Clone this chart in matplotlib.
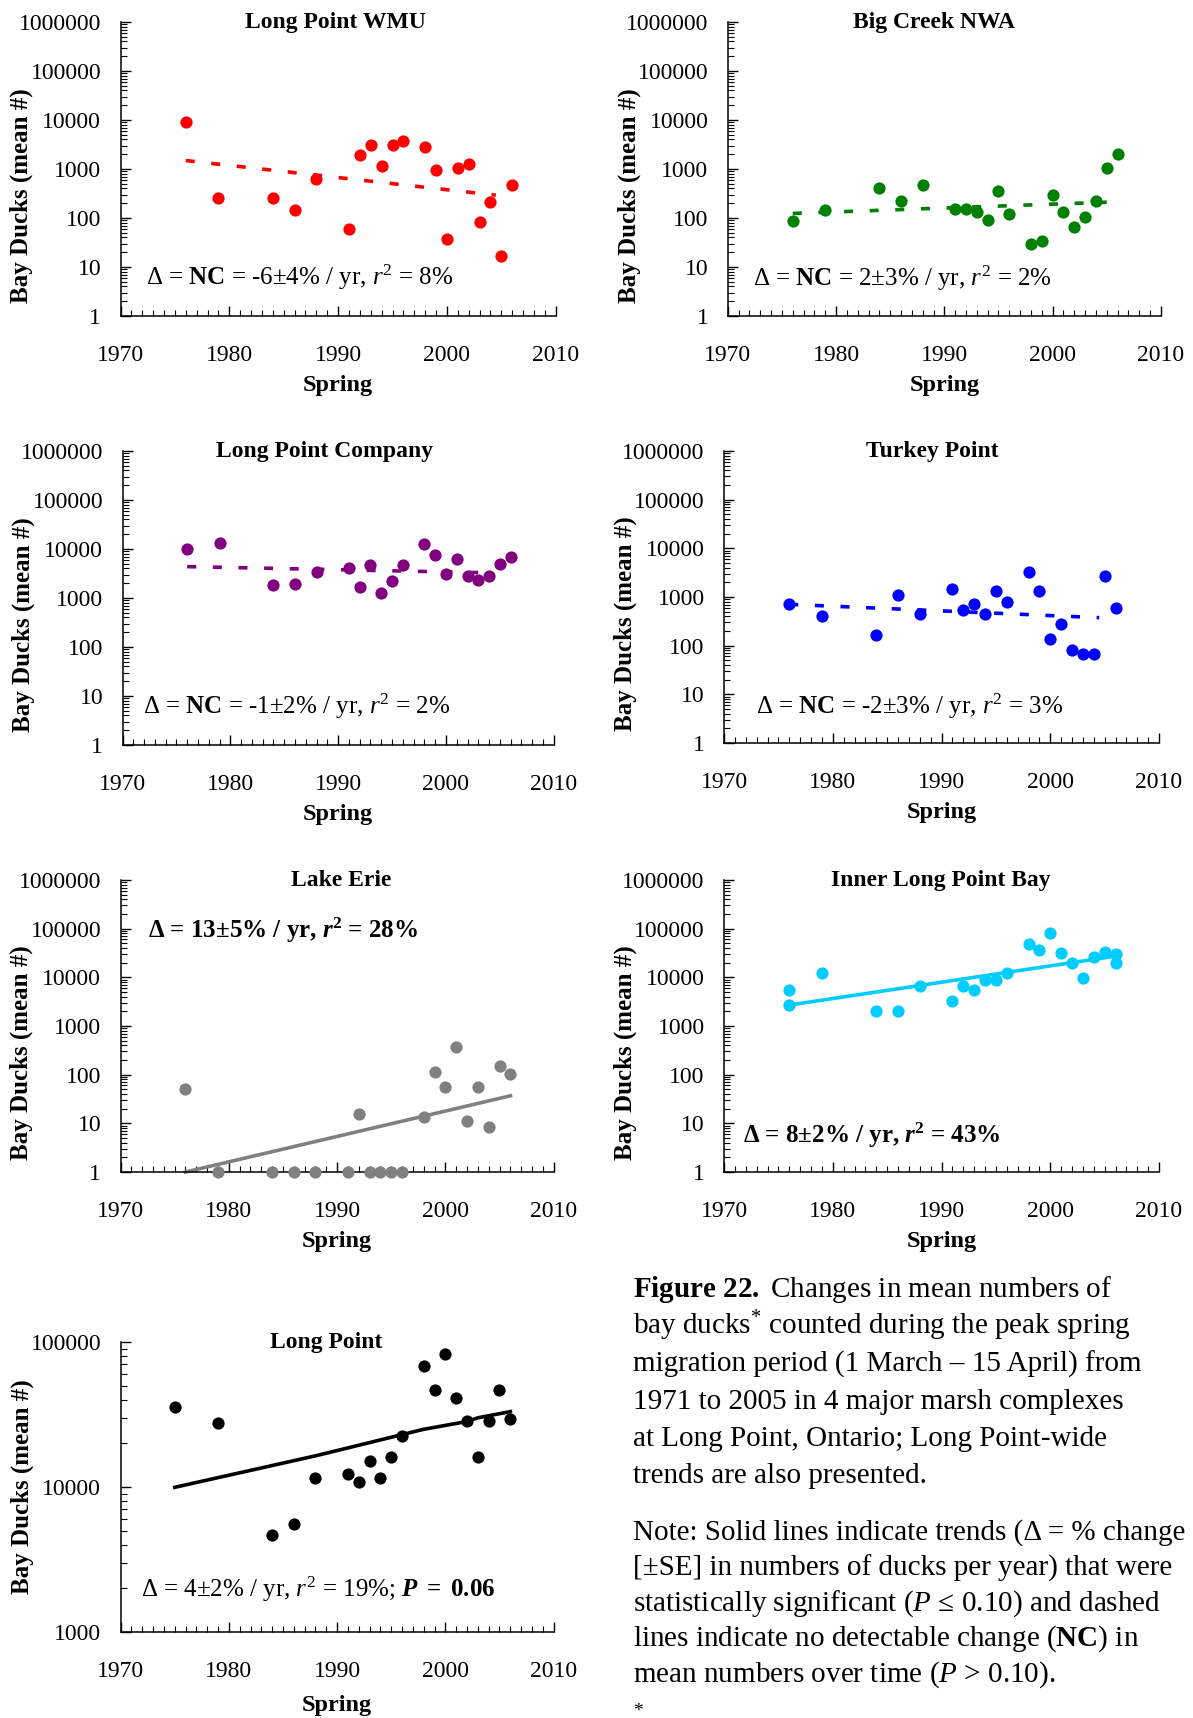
import numpy as np
import matplotlib
matplotlib.use('Agg')
import matplotlib.pyplot as plt
from matplotlib.ticker import LogLocator, MultipleLocator, FuncFormatter, NullFormatter

plt.rcParams['font.family'] = ['Liberation Serif', 'DejaVu Serif']
plt.rcParams['mathtext.fontset'] = 'custom'
plt.rcParams['mathtext.rm'] = 'Liberation Serif'
plt.rcParams['mathtext.it'] = 'Liberation Serif:italic'
plt.rcParams['mathtext.bf'] = 'Liberation Serif:bold'
plt.rcParams['mathtext.bfit'] = 'Liberation Serif:italic:bold'

# ---- data ----
years = [1976, 1979, 1984, 1986, 1988, 1991, 1992, 1993, 1994, 1995,
         1996, 1998, 1999, 2000, 2001, 2002, 2003, 2004, 2005, 2006]

wmu = [9100, 262, 262, 145, 620, 59, 1900, 3050, 1150, 3050,
       3750, 2820, 945, 37, 1050, 1290, 81, 213, 17, 480]
big_creek = [88, 145, 418, 220, 480, 156, 156, 134, 90, 350,
             120, 30, 34, 293, 134, 66, 106, 220, 1050, 2070]
lp_company = [10200, 13500, 1880, 1900, 3400, 4170, 1710, 4650, 1270, 2270,
              4650, 12500, 7450, 3050, 6170, 2830, 2300, 2830, 5030, 6900]
turkey_pt = [727, 400, 163, 1080, 440, 1480, 550, 727, 440, 1330,
             790, 3250, 1330, 135, 275, 83, 68, 68, 2700, 600]
lake_erie = [51, 1, 1, 1, 1, 1, 15.5, 1, 1, 1,
             1, 13.8, 113, 56, 367, 11.3, 56, 8.5, 152, 104]

inner_years = [1976, 1976, 1979, 1984, 1986, 1988, 1991, 1992, 1993, 1994, 1995,
               1996, 1998, 1999, 2000, 2001, 2002, 2003, 2004, 2005, 2006, 2006]
inner_bay = [5480, 2690, 12000, 2030, 2030, 6600, 3300, 6600, 5480, 8740, 8740,
             12000, 47600, 36500, 79700, 32200, 19900, 9780, 26500, 33500, 30000, 19300]

lp_years = [1975, 1979, 1984, 1986, 1988, 1991, 1992, 1993, 1994, 1995,
            1996, 1998, 1999, 2000, 2001, 2002, 2003, 2004, 2005, 2006]
long_point = [35900, 27500, 4650, 5520, 11500, 12300, 10800, 15100, 11500, 16100,
              22500, 67800, 46600, 82600, 41000, 28600, 16100, 28600, 46600, 29400]

# trend lines
trend_x = [[1976, 2004.5], [1976, 2005], [1976, 2004.5], [1976, 2004.5],
           [1976, 2006], [1976, 2006], [1975, 1988, 1998, 2002, 2003, 2006]]
trend_y = [[1490, 292], [124, 210], [4370, 3250], [707, 376],
           [1, 36.8], [2690, 27300], [9950, 16400, 25000, 28300, 30000, 33100]]

titles = ['Long Point WMU', 'Big Creek NWA', 'Long Point Company', 'Turkey Point',
          'Lake Erie', 'Inner Long Point Bay', 'Long Point']
notes = [r'Δ = $\mathbf{NC}$ = -6±4% / yr, $r^{2}$ = 8%',
         r'Δ = $\mathbf{NC}$ = 2±3% / yr, $r^{2}$ = 2%',
         r'Δ = $\mathbf{NC}$ = -1±2% / yr, $r^{2}$ = 2%',
         r'Δ = $\mathbf{NC}$ = -2±3% / yr, $r^{2}$ = 3%',
         r'Δ = 13±5% / yr, $\mathbfit{r}^{\mathbf{2}}$ = 28%',
         r'Δ = 8±2% / yr, $\mathbfit{r}^{\mathbf{2}}$ = 43%',
         r'Δ = 4±2% / yr, $r^{2}$ = 19%; $\mathbfit{P}\ \mathbf{=}\ \mathbf{0.06}$']
note_bold = [False, False, False, False, True, True, False]
note_pos = [(0.058, 0.133), (0.058, 0.129), (0.048, 0.133), (0.073, 0.127),
            (0.064, 0.829), (0.044, 0.127), (0.047, 0.148)]
title_dx = [-0.006, -0.023, -0.031, -0.021, 0.010, -0.002, -0.026]
ylabel_y = [0.41, 0.41, 0.41, 0.41, 0.41, 0.41, 0.5]
xlabel_dy = [59, 59, 59, 59, 59, 59, 63]

series_x = [years, years, years, years, years, inner_years, lp_years]
series_y = [wmu, big_creek, lp_company, turkey_pt, lake_erie, inner_bay, long_point]
colors = ['#ff0000', '#008000', '#800080', '#0000ff', '#808080', '#00ccff', '#000000']
dashed = [True, True, True, True, False, False, False]
ylims = [(1, 1e6)] * 6 + [(1000, 1e5)]

caption1 = [r'$\mathbf{Figure\ 22.}$ Changes in mean numbers of',
            r'bay ducks$^{*}$ counted during the peak spring',
            'migration period (1 March – 15 April) from',
            '1971 to 2005 in 4 major marsh complexes',
            'at Long Point, Ontario; Long Point-wide',
            'trends are also presented.']
caption2 = ['Note: Solid lines indicate trends (Δ = % change',
            '[±SE] in numbers of ducks per year) that were',
            r'statistically significant ($P$ ≤ 0.10) and dashed',
            r'lines indicate no detectable change ($\mathbf{NC}$) in',
            r'mean numbers over time ($P$ > 0.10).']

W, H = 1193, 1718
fig = plt.figure(figsize=(W / 100, H / 100), dpi=100)

# axes boxes in pixels: left, top, right, bottom
rects = [(120.5, 22, 555.7, 316), (727.8, 22, 1160.9, 316),
         (122.5, 451, 553.8, 745), (724, 451, 1159, 743),
         (120.5, 880, 553.8, 1172), (724, 880, 1159, 1172),
         (120.6, 1342, 553.6, 1632)]

for i in range(7):
    l, t, r, b = rects[i]
    w, h = r - l, b - t
    ax = fig.add_axes([l / W, 1 - b / H, w / W, h / H])
    ax.set_yscale('log')
    ax.set_ylim(*ylims[i])
    ax.set_xlim(1970, 2010)

    if dashed[i]:
        ax.plot(trend_x[i], trend_y[i], color=colors[i], lw=2.6,
                dashes=(2.5, 4.6), solid_capstyle='butt', zorder=2)
    else:
        ax.plot(trend_x[i], trend_y[i], color=colors[i], lw=2.6,
                zorder=2, clip_on=False)
    ax.plot(series_x[i], series_y[i], 'o', color=colors[i], ms=8.8,
            mec='none', zorder=3, clip_on=False)

    for s in ['top', 'right']:
        ax.spines[s].set_visible(False)
    ax.spines['left'].set_linewidth(1.1)
    ax.spines['bottom'].set_linewidth(1.1)

    ax.xaxis.set_major_locator(MultipleLocator(10))
    ax.xaxis.set_minor_locator(MultipleLocator(1))
    ax.yaxis.set_major_locator(LogLocator(base=10, numticks=10))
    ax.yaxis.set_minor_locator(LogLocator(base=10, subs=np.arange(2, 10), numticks=20))
    ax.yaxis.set_major_formatter(FuncFormatter(lambda v, p: '%d' % round(v)))
    ax.yaxis.set_minor_formatter(NullFormatter())
    ax.tick_params(which='major', direction='in', length=7, width=1, labelsize=17)
    ax.tick_params(which='minor', direction='in', length=4.5, width=0.8)
    ax.tick_params(axis='x', which='major', pad=21)
    ax.tick_params(axis='y', which='major', pad=14)

    ax.set_ylabel('Bay Ducks (mean #)', fontsize=18, fontweight='bold')
    ax.yaxis.set_label_coords(-87 / w, ylabel_y[i])
    ax.set_xlabel('Spring', fontsize=17.5, fontweight='bold')
    ax.xaxis.set_label_coords(0.5, -xlabel_dy[i] / h)

    ax.text(0.5 + title_dx[i], 0.998, titles[i], transform=ax.transAxes,
            ha='center', va='center', fontsize=17, fontweight='bold')
    ax.text(note_pos[i][0], note_pos[i][1], notes[i], transform=ax.transAxes,
            ha='left', va='center', fontsize=18,
            fontweight='bold' if note_bold[i] else 'normal')

# caption text
for k, line in enumerate(caption1):
    fig.text(633 / W, 1 - (1297 + k * 37.2) / H, line, fontsize=21, ha='left', va='baseline')
for k, line in enumerate(caption2):
    fig.text(633 / W, 1 - (1540 + k * 35.3) / H, line, fontsize=21, ha='left', va='baseline')
fig.text(633 / W, 1 - 1716 / H, '*', fontsize=14, ha='left', va='baseline')

fig.savefig('out.png', dpi=100)
